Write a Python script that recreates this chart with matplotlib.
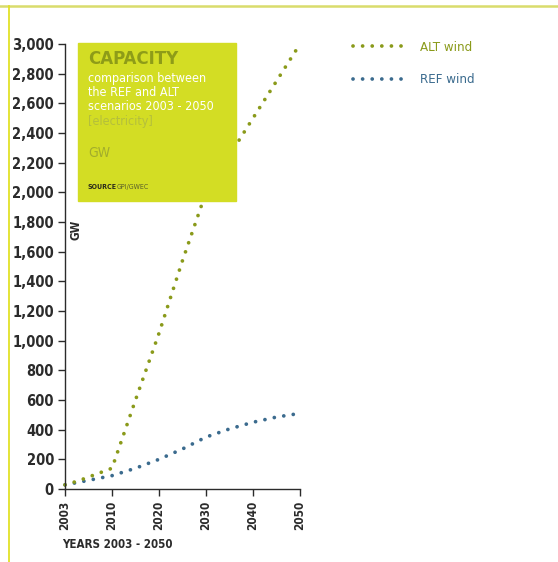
import numpy as np
import matplotlib
matplotlib.use('Agg')
from matplotlib import pyplot as plt
from matplotlib.lines import Line2D
from matplotlib.patches import Rectangle

# DejaVu Sans Condensed is close to the narrow face of the original
plt.rcParams['font.family'] = ['DejaVu Sans']
plt.rcParams['font.stretch'] = 'condensed'

# data (GW)
years = [2003, 2005, 2010, 2015, 2020, 2025, 2030, 2035, 2040, 2045, 2050]
alt_wind = [28, 55, 140, 600, 1050, 1540, 2000, 2250, 2500, 2750, 3000]
ref_wind = [28, 45, 90, 140, 200, 270, 350, 405, 450, 485, 510]
tick_years = [2003, 2010, 2020, 2030, 2040, 2050]
y_ticks = list(range(0, 3001, 200))

ALT_C = '#8a9a1a'
REF_C = '#3b6b8e'
BOX_C = '#d3dd24'
TXT_C = '#2b2b2b'

# ticks are equally spaced on the original, so map years onto tick positions
def xpos(y):
    return np.interp(y, tick_years, range(len(tick_years)))

fig = plt.figure(figsize=(5.58, 5.62), dpi=100)
W, H = 558, 562
ax = fig.add_axes([65 / W, 1 - 489 / H, 235 / W, 445 / H])

dot = dict(linestyle=(0, (0.01, 2.55)), dash_capstyle='round', linewidth=2.7)
ax.plot(xpos(years), ref_wind, color=REF_C, clip_on=False, **dot)
ax.plot(xpos(years), alt_wind, color=ALT_C, clip_on=False, **dot)

ax.set_xlim(0, len(tick_years) - 1)
ax.set_ylim(0, 3000)
ax.set_yticks(y_ticks)
ax.set_yticklabels([f'{v:,}' for v in y_ticks], fontsize=10.5, fontweight='bold', color=TXT_C)
ax.set_xticks(range(len(tick_years)))
ax.set_xticklabels([str(t) for t in tick_years], rotation=90, fontsize=8.5,
                   fontweight='bold', color=TXT_C)
ax.tick_params(axis='both', direction='out', length=5, width=1, color=TXT_C)
ax.tick_params(axis='y', pad=3)
for s in ['top', 'right']:
    ax.spines[s].set_visible(False)
for s in ['left', 'bottom']:
    ax.spines[s].set_color(TXT_C)
    ax.spines[s].set_linewidth(1)
ax.patch.set_alpha(0)

ax.text(0.045, 0.582, 'GW', transform=ax.transAxes, rotation=90, fontsize=8.5,
        fontweight='bold', color=TXT_C, ha='center', va='center')

fig.text(62 / W, 1 - 545 / H, 'YEARS 2003 - 2050', fontsize=8.3, fontweight='bold',
         color=TXT_C, ha='left', va='center')

# title box
fig.patches.append(Rectangle((78 / W, 1 - 201 / H), 158 / W, 158 / H,
                             transform=fig.transFigure, color=BOX_C, zorder=3))
fig.text(88 / W, 1 - 59 / H, 'CAPACITY', fontsize=13.3, fontweight='bold',
         color='#8e9c18', va='center', zorder=4)
fig.text(88 / W, 1 - 79 / H, 'comparison between', fontsize=9, color='white',
         va='center', zorder=4)
fig.text(88 / W, 1 - 93 / H, 'the REF and ALT', fontsize=9, color='white',
         va='center', zorder=4)
fig.text(88 / W, 1 - 107 / H, 'scenarios 2003 - 2050', fontsize=9, color='white',
         va='center', zorder=4)
fig.text(88 / W, 1 - 122 / H, '[electricity]', fontsize=9, color='#b4bf3c',
         va='center', zorder=4)
fig.text(88 / W, 1 - 153 / H, 'GW', fontsize=10, color='#a2ad2c',
         va='center', zorder=4)
fig.text(88 / W, 1 - 187 / H, 'SOURCE', fontsize=5, fontweight='bold',
         color='#2a2a1a', va='center', zorder=4)
fig.text(117 / W, 1 - 187 / H, 'GPI/GWEC', fontsize=5, color='#5a5f2a',
         va='center', zorder=4)

# legend
handles = [Line2D([0], [0], color=ALT_C, **dot), Line2D([0], [0], color=REF_C, **dot)]
leg = fig.legend(handles, ['ALT wind', 'REF wind'], loc='upper left',
                 bbox_to_anchor=(353 / W, 1 - 41 / H), frameon=False,
                 borderpad=0, borderaxespad=0,
                 handlelength=4.1, handletextpad=1.0, labelspacing=1.45,
                 fontsize=9.5)
for t, c in zip(leg.get_texts(), [ALT_C, REF_C]):
    t.set_color(c)

# frame lines of the page
fig.lines.append(Line2D([0, 1], [1 - 6 / H, 1 - 6 / H], transform=fig.transFigure,
                        color='#d9dc6c', linewidth=1.8))
fig.lines.append(Line2D([8.5 / W, 8.5 / W], [0, 1 - 6 / H], transform=fig.transFigure,
                        color='#e2e228', linewidth=1.3))

plt.savefig('out.png', dpi=100)
